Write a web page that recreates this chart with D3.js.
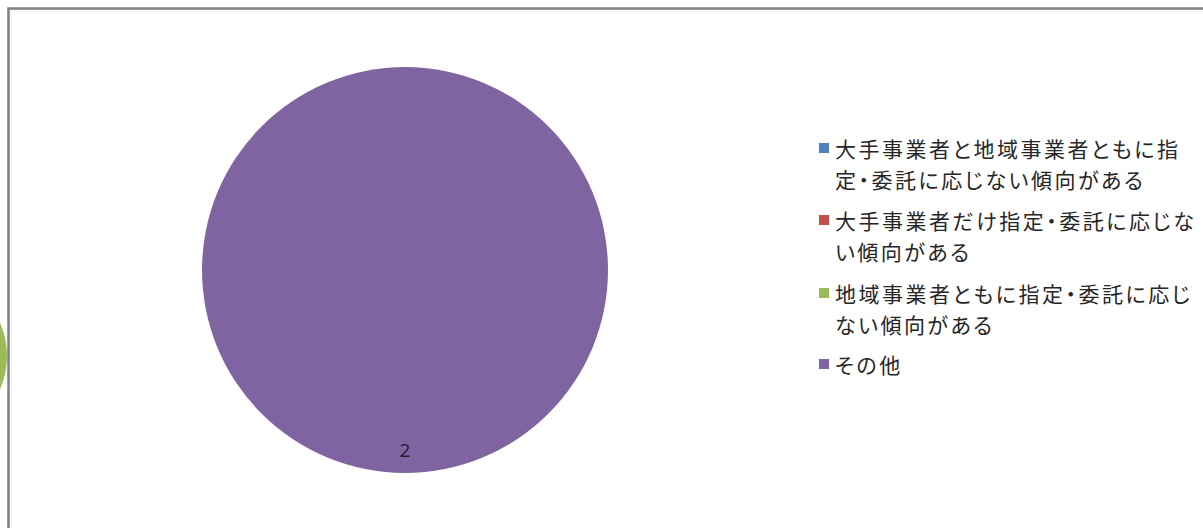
<!DOCTYPE html>
<html>
<head>
<meta charset="utf-8">
<script src="https://cdn.jsdelivr.net/npm/d3@7"></script>
<style>
  html, body { margin: 0; padding: 0; background: #ffffff; }
  svg { display: block; }
</style>
</head>
<body>
<script>
// Categories (legend entries, each split into its wrapped lines)
const categories = [
  "大手事業者と地域事業者ともに指定・委託に応じない傾向がある",
  "大手事業者だけ指定・委託に応じない傾向がある",
  "地域事業者ともに指定・委託に応じない傾向がある",
  "その他"
];
const legendLines = [
  ["大手事業者と地域事業者ともに指", "定・委託に応じない傾向がある"],
  ["大手事業者だけ指定・委託に応じな", "い傾向がある"],
  ["地域事業者ともに指定・委託に応じ", "ない傾向がある"],
  ["その他"]
];
const values = [0, 0, 0, 2];
const colors = ["#4F81BD", "#C0504D", "#9BBB59", "#8064A2"];

const W = 1203, H = 528;
const svg = d3.select("body").append("svg")
  .attr("width", W).attr("height", H);

// Neighbouring chart fragment peeking in from the left edge
svg.append("circle")
  .attr("cx", -76).attr("cy", 356).attr("r", 83)
  .attr("fill", "#9BBB59");

// Chart area frame (extends past the right and bottom edges)
svg.append("rect")
  .attr("x", 8.5).attr("y", 8.5)
  .attr("width", W + 20).attr("height", H + 20)
  .attr("fill", "#ffffff")
  .attr("stroke", "#7f7f7f").attr("stroke-width", 2.5);
svg.append("path")
  .attr("d", `M11,${H}V11H${W}`)
  .attr("fill", "none").attr("stroke", "#ececec").attr("stroke-width", 1);

// Pie
const cx = 405, cy = 270, R = 203;
const color = d3.scaleOrdinal().domain(categories).range(colors);
const pie = d3.pie().sort(null).value(d => d.value);
const data = categories.map((c, i) => ({ name: c, value: values[i] }));
const arcs = pie(data);
const arc = d3.arc().innerRadius(0).outerRadius(R);
const labelArc = d3.arc().innerRadius(180).outerRadius(180);

const g = svg.append("g").attr("transform", `translate(${cx},${cy})`);
g.selectAll("path.slice")
  .data(arcs.filter(d => d.value > 0))
  .join("path")
  .attr("class", "slice")
  .attr("d", arc)
  .attr("fill", d => color(d.data.name));

g.selectAll("text.val")
  .data(arcs.filter(d => d.value > 0))
  .join("text")
  .attr("class", "val")
  .attr("transform", d => `translate(${labelArc.centroid(d)})`)
  .attr("text-anchor", "middle")
  .attr("dominant-baseline", "central")
  .attr("font-family", "'Open Sans', 'Liberation Sans', sans-serif")
  .attr("font-size", 19)
  .attr("fill", "#231d33")
  .text(d => d.value);

// Legend
const legendX = 819, textX = 835;
const entryY = [148, 220, 293, 364];
const lineH = 31;
const fontSize = 21;
const lg = svg.append("g");
const texts = [];
categories.forEach((c, i) => {
  const y0 = entryY[i];
  lg.append("rect")
    .attr("x", legendX).attr("y", y0 - 5)
    .attr("width", 10).attr("height", 10)
    .attr("fill", color(c));
  legendLines[i].forEach((line, j) => {
    texts.push(lg.append("text")
      .attr("x", textX).attr("y", y0 + j * lineH)
      .attr("dominant-baseline", "central")
      .attr("font-family", "'Noto Sans CJK JP', sans-serif")
      .attr("font-size", fontSize)
      .style("font-feature-settings", "'palt' 1")
      .attr("fill", "#262626")
      .text(line));
  });
});

// Spread the proportional glyphs so the first legend line spans 343px
const first = texts[0];
const n = legendLines[0][0].length;
const w0 = first.node().getComputedTextLength();
const spacing = Math.max(0, (343 - w0) / (n - 1));
texts.forEach(t => t.attr("letter-spacing", spacing));
</script>
</body>
</html>
